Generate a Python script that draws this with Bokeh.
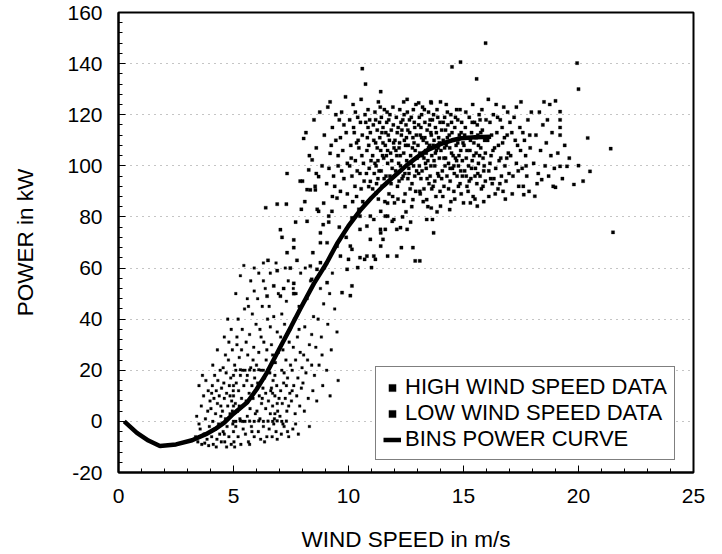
from bokeh.plotting import figure
from bokeh.models import Range1d, SingleIntervalTicker, Legend, LegendItem
from bokeh.embed import file_html
from bokeh.resources import INLINE

# ---- data -----------------------------------------------------------------
curve_speed = [0.25, 0.8, 1.3, 1.8, 2.5, 3.2, 3.8, 4.2, 4.6, 5.0, 5.6, 6.0, 6.45,
               7.0, 7.5, 7.9, 8.5, 9.05, 9.5, 10.0, 10.5, 11.0, 11.5, 12.0,
               12.5, 13.0, 13.4, 14.0, 14.5, 14.9, 15.5, 16.2]
curve_power = [0.0, -4.5, -7.5, -9.6, -9.0, -7.4, -5.0, -3.0, -0.5, 3.0, 7.5, 12.5, 19.0,
               28.5, 37.0, 44.0, 54.0, 62.0, 69.5, 76.5, 82.5, 87.5, 92.0, 96.0,
               100.0, 103.5, 106.0, 108.5, 110.0, 110.8, 111.2, 111.4]

low_pts = [
    (3.35, -6), (3.4, 2), (3.45, -8), (3.5, 14), (3.55, -3), (3.6, 6), (3.62, -9), (3.7, 10),
    (3.72, -5), (3.78, 1), (3.8, 16), (3.85, -7), (3.88, 4), (3.9, 12), (3.95, -2), (3.98, 8),
    (3.5, -1), (3.65, 18), (3.75, -8.5), (3.92, -9.5),
    (4.02, 5), (4.05, -6), (4.08, 14), (4.1, 0), (4.12, -9), (4.15, 9), (4.18, 18), (4.2, -3),
    (4.22, 3), (4.25, 12), (4.28, -7), (4.3, 7), (4.32, 16), (4.35, -1), (4.38, 10), (4.4, -5),
    (4.42, 20), (4.45, 2), (4.47, -8), (4.48, 13), (4.1, 22), (4.3, 28), (4.45, 6), (4.05, 11),
    (4.25, -10),
    (4.52, 4), (4.55, -4), (4.58, 15), (4.6, 9), (4.62, -8), (4.65, 1), (4.68, 19), (4.7, 11),
    (4.72, -2), (4.75, 6), (4.78, 24), (4.8, -6), (4.82, 14), (4.85, 3), (4.88, 17), (4.9, -9),
    (4.92, 8), (4.95, 28), (4.97, -1), (4.99, 12), (4.6, 33), (4.75, 40), (4.9, 36), (4.55, 21),
    (4.7, -10), (4.85, 10), (4.65, 26), (4.95, 4), (4.8, 31), (4.6, -5),
    (5.0, -4), (5.0, 0), (5.0, 3), (5.0, 6), (5.0, 10), (5.0, 14), (5.0, 18), (5.02, -8),
    (5.05, 22), (5.08, 7), (5.1, -2), (5.12, 15), (5.15, 30), (5.18, 4), (5.2, -6), (5.22, 12),
    (5.25, 25), (5.28, 1), (5.3, 18), (5.32, -9), (5.35, 9), (5.38, 36), (5.4, 20), (5.42, -3),
    (5.45, 14), (5.48, 44), (5.1, 50), (5.3, 57), (5.45, 61), (5.2, 40), (5.15, 33), (5.35, 28),
    (5.05, -10), (5.25, 6), (5.4, 0),
    (5.52, -5), (5.55, 8), (5.58, 16), (5.6, 2), (5.62, 26), (5.65, -8), (5.68, 11), (5.7, 34),
    (5.72, 5), (5.75, 21), (5.78, -2), (5.8, 14), (5.82, 42), (5.85, 9), (5.88, 29), (5.9, -6),
    (5.92, 17), (5.95, 3), (5.98, 38), (5.6, 48), (5.75, 55), (5.9, 60), (5.55, 31), (5.7, -9),
    (5.85, 24), (5.65, 45), (5.95, 12), (5.8, -4), (5.9, 51), (5.6, 18),
    (6.02, 4), (6.05, 15), (6.08, -4), (6.1, 27), (6.12, 10), (6.15, 36), (6.18, -7), (6.2, 20),
    (6.22, 7), (6.25, 45), (6.28, 13), (6.3, -2), (6.32, 31), (6.35, 17), (6.38, 52), (6.4, 5),
    (6.42, 24), (6.45, -6), (6.48, 40), (6.1, 58), (6.3, 62), (6.05, 48), (6.2, 33), (6.4, 11),
    (6.15, 1), (6.35, -8), (6.45, 28), (6.25, 9), (6.0, 22), (6.3, 55),
    (6.52, 8), (6.55, -3), (6.58, 19), (6.6, 3), (6.62, 12), (6.65, 30), (6.68, -6), (6.7, 6),
    (6.72, 16), (6.75, 41), (6.78, 1), (6.8, 10), (6.82, 23), (6.85, -4), (6.88, 14), (6.9, 35),
    (6.92, 4), (6.95, 50), (6.98, 9), (6.6, 58), (6.85, 62), (6.7, 26), (6.55, 45), (6.9, -7),
    (6.65, 13), (6.8, 18), (6.95, 27), (6.75, -1), (6.6, 37), (6.9, 7), (6.7, 11), (6.8, 3),
    (7.02, 2), (7.05, 12), (7.08, -5), (7.1, 20), (7.12, 7), (7.15, 28), (7.18, 15), (7.2, -2),
    (7.22, 38), (7.25, 9), (7.28, 24), (7.3, 47), (7.32, 4), (7.35, 17), (7.38, 55), (7.4, -6),
    (7.42, 31), (7.45, 11), (7.48, 22), (7.1, 42), (7.25, 60), (7.4, 6), (7.15, -1), (7.3, 14),
    (7.45, 36), (7.05, 33), (7.2, 19), (7.35, -4),
    (7.52, 8), (7.55, 20), (7.58, -3), (7.6, 29), (7.62, 14), (7.65, 40), (7.68, 3), (7.7, 24),
    (7.72, 50), (7.75, 10), (7.78, 33), (7.8, 17), (7.82, -5), (7.85, 45), (7.88, 6), (7.9, 27),
    (7.92, 58), (7.95, 13), (7.98, 21), (7.6, 52), (7.7, -1), (7.85, 36), (7.55, 12),
    (8.02, 15), (8.05, 26), (8.08, 4), (8.1, 37), (8.15, 19), (8.2, 48), (8.25, 9), (8.3, 30),
    (8.35, 55), (8.4, 22), (8.45, 12), (8.48, 41), (8.12, 60), (8.3, -2), (8.4, 34), (8.22, 24),
    (8.52, 18), (8.58, 29), (8.62, 8), (8.68, 40), (8.72, 22), (8.78, 52), (8.82, 33), (8.88, 14),
    (8.92, 46), (8.96, 60), (8.6, 56), (8.85, 26),
    (9.05, 20), (9.1, 38), (9.18, 50), (9.25, 28), (9.3, 58), (9.4, 44), (9.5, 35), (9.55, 16),
    (9.2, 10),
    (5.1, 20), (5.3, 20.2), (5.5, 20), (5.7, 20.1), (5.9, 20), (6.1, 20.2), (6.3, 20), (6.5, 20.1),
    (5.1, 0), (5.3, 0.2), (5.5, 0), (5.7, 0.1), (5.9, 0), (6.1, 0.2), (6.3, 0), (6.5, 0.1),
    (6.7, 0), (6.9, 0.2), (7.1, 0), (7.3, 0.1),
]

high_pts = [
    (7.04, 75), (7.11, 72), (7.33, 97), (7.33, 66), (7.47, 60), (7.62, 71), (7.62, 54), (7.76, 63),
    (7.9, 94), (7.18, 52), (7.62, 68), (7.3, 85), (7.95, 83), (7.7, 78), (6.9, 59), (6.5, 63),
    (6.75, 53), (6.46, 49), (7.04, 49), (7.62, 50), (6.4, 83.6), (6.9, 85),
    (8.05, 110.7), (8.0, 94), (8.2, 90.7), (8.34, 90.6), (8.56, 90.6), (8.55, 92), (8.7, 95.8),
    (8.27, 98.4), (8.42, 102.3), (8.5, 118), (8.92, 85.4), (8.7, 82.2), (8.2, 78.3), (8.64, 83),
    (8.78, 73.8), (8.78, 69.9), (8.34, 60.8), (8.4, 55.6), (8.78, 62.1), (8.63, 59.5), (8.15, 113),
    (8.6, 107), (8.85, 100), (8.3, 104), (8.95, 112), (8.75, 121), (8.45, 66), (8.1, 86), (8.9, 77),
    (8.6, 97),
    (9.1, 123), (9.2, 125), (9.2, 104.9), (9.28, 82.2), (9.5, 87.4), (9.14, 80.3), (9.14, 78),
    (9.07, 69.9), (9.5, 68.6), (9.07, 54.3), (9.65, 64.7), (9.94, 59.5), (9.72, 50.4), (9.87, 127),
    (9.3, 115), (9.45, 110), (9.6, 118), (9.75, 106), (9.9, 113), (9.35, 96),
    (9.55, 100), (9.8, 95), (9.65, 90), (9.95, 101), (9.4, 92), (9.7, 121), (9.85, 84), (9.25, 108),
    (9.6, 76), (9.9, 72), (9.15, 99), (9.45, 120), (9.8, 116), (9.55, 104), (9.3, 88), (9.7, 98),
    (9.95, 89), (9.05, 93), (9.65, 111),
    (10.0, 63.4), (10.08, 68.6), (10.15, 67.3), (10.15, 53), (10.08, 49.2), (10.5, 64.1),
    (10.7, 63.4), (10.4, 60.2), (10.5, 75.1), (10.8, 76.4), (10.5, 80.3), (10.15, 79.6),
    (10.95, 80.3), (10.88, 91.9), (10.95, 93.9), (10.8, 64.7), (10.95, 71.2), (10.6, 138),
    (10.74, 132), (10.05, 118), (10.1, 108), (10.15, 96), (10.2, 124), (10.25, 113), (10.3, 102),
    (10.35, 88), (10.4, 119), (10.45, 107), (10.5, 97), (10.55, 126), (10.6, 112), (10.65, 101),
    (10.7, 85), (10.75, 117), (10.8, 106), (10.85, 122), (10.9, 99), (10.95, 113), (10.12, 103),
    (10.28, 92), (10.42, 110), (10.58, 104), (10.72, 120), (10.88, 108), (10.22, 115), (10.38, 98),
    (10.52, 117), (10.68, 94), (10.82, 111), (10.98, 102), (10.3, 121), (10.62, 86), (10.92, 118),
    (10.45, 83), (10.18, 86), (10.78, 97), (10.35, 109), (10.55, 91), (10.05, 100), (10.85, 115),
    (11.1, 64.7), (11.0, 60.2), (11.17, 63.4), (11.4, 68.6), (11.5, 71.2), (11.4, 73.8),
    (11.39, 75.1), (11.1, 79), (11.6, 80.3), (11.4, 82.2), (11.7, 80.3), (11.97, 79), (11.6, 75.1),
    (11.2, 89.3), (11.7, 85.4), (11.7, 64.7), (11.9, 78.3), (11.4, 129), (11.05, 104), (11.08, 116),
    (11.12, 97), (11.15, 121), (11.18, 109), (11.22, 93), (11.25, 114), (11.28, 102), (11.3, 125),
    (11.33, 98), (11.36, 111), (11.4, 106), (11.43, 119), (11.46, 92), (11.5, 115), (11.53, 103),
    (11.56, 122), (11.6, 108), (11.63, 96), (11.66, 117), (11.7, 101), (11.73, 112), (11.76, 89),
    (11.8, 120), (11.83, 105), (11.86, 114), (11.9, 99), (11.93, 123), (11.96, 109), (11.1, 110),
    (11.2, 100), (11.3, 87), (11.45, 113), (11.55, 95), (11.65, 104), (11.75, 118), (11.85, 93),
    (11.95, 116), (11.15, 101), (11.35, 117), (11.5, 109), (11.7, 106), (11.88, 102), (11.25, 107),
    (11.42, 98), (11.62, 113), (11.8, 96), (11.98, 107), (11.05, 91), (11.38, 123), (11.68, 121),
    (11.92, 88), (11.58, 86), (11.28, 95), (11.78, 110), (11.48, 104), (11.18, 118),
    (12.1, 64.7), (12.1, 75.1), (12.3, 68), (12.8, 68), (12.26, 75.8), (12.55, 75.1), (12.0, 85.5),
    (12.4, 86.1), (12.8, 86.8), (12.55, 126), (12.9, 62.8), (12.02, 110), (12.05, 98), (12.08, 119),
    (12.1, 104), (12.13, 92), (12.16, 115), (12.2, 107), (12.23, 122), (12.26, 100), (12.3, 112),
    (12.33, 95), (12.36, 118), (12.4, 105), (12.43, 110), (12.46, 89), (12.5, 116), (12.53, 102),
    (12.56, 121), (12.6, 108), (12.63, 97), (12.66, 113), (12.7, 104), (12.73, 119), (12.76, 93),
    (12.8, 111), (12.83, 100), (12.86, 117), (12.9, 106), (12.93, 124), (12.96, 98), (12.12, 113),
    (12.18, 101), (12.28, 117), (12.38, 96), (12.48, 108), (12.58, 114), (12.68, 91), (12.78, 107),
    (12.88, 115), (12.98, 103), (12.22, 109), (12.42, 120), (12.62, 99), (12.82, 122), (12.15, 87),
    (12.35, 80), (12.45, 97), (12.65, 118), (12.75, 84), (12.95, 112), (12.25, 104), (12.52, 111),
    (12.72, 101), (12.92, 90), (12.06, 106), (12.32, 114), (12.58, 95), (12.85, 109), (12.4, 125),
    (12.7, 78), (12.2, 94), (12.5, 82), (12.88, 96),
    (13.05, 124.6), (13.6, 124.6), (13.1, 62.8), (13.7, 73.8), (13.4, 79), (13.6, 83.5), (13.1, 90),
    (13.4, 86.8), (13.02, 108), (13.05, 116), (13.08, 100), (13.12, 112), (13.15, 95), (13.18, 120),
    (13.22, 104), (13.25, 110), (13.28, 91), (13.32, 117), (13.35, 106), (13.38, 99), (13.42, 114),
    (13.45, 102), (13.48, 121), (13.52, 108), (13.55, 96), (13.58, 113), (13.62, 104), (13.65, 118),
    (13.68, 92), (13.72, 110), (13.75, 100), (13.78, 115), (13.82, 106), (13.85, 122), (13.88, 97),
    (13.92, 111), (13.95, 103), (13.98, 117), (13.1, 105), (13.2, 98), (13.3, 122), (13.4, 109),
    (13.5, 93), (13.6, 112), (13.7, 120), (13.8, 88), (13.9, 107), (13.15, 115), (13.35, 101),
    (13.55, 118), (13.75, 94), (13.95, 109), (13.25, 86), (13.45, 84), (13.65, 79), (13.85, 82),
    (13.05, 97), (13.32, 111), (13.58, 100), (13.78, 105), (13.12, 89), (13.42, 95), (13.62, 91),
    (13.82, 113), (13.22, 123), (13.52, 116), (13.72, 102), (13.92, 96), (13.38, 105), (13.68, 108),
    (13.18, 111), (13.48, 107), (13.88, 119), (13.08, 119), (13.98, 90), (13.28, 103), (13.58, 125),
    (14.0, 125), (14.0, 84.2), (14.4, 82.9), (14.5, 138.7), (14.87, 140.6), (15.0, 85.5),
    (14.02, 106), (14.05, 114), (14.08, 98), (14.12, 110), (14.15, 92), (14.18, 119), (14.22, 103),
    (14.25, 108), (14.28, 96), (14.32, 116), (14.35, 101), (14.38, 112), (14.42, 94), (14.45, 120),
    (14.48, 105), (14.52, 99), (14.55, 110), (14.58, 90), (14.62, 115), (14.65, 103), (14.68, 108),
    (14.72, 96), (14.75, 118), (14.78, 100), (14.82, 112), (14.85, 93), (14.88, 106), (14.92, 117),
    (14.95, 102), (14.98, 109), (14.1, 88), (14.2, 100), (14.3, 121), (14.4, 107), (14.5, 113),
    (14.6, 97), (14.7, 122), (14.8, 104), (14.9, 89), (14.15, 103), (14.35, 91), (14.55, 104),
    (14.75, 109), (14.95, 96), (14.25, 124), (14.45, 86), (14.65, 119), (14.85, 122), (14.05, 95),
    (14.3, 111), (14.58, 100), (14.78, 92), (14.12, 117), (14.42, 99), (14.62, 87), (14.9, 113),
    (14.22, 114), (14.7, 102), (14.48, 117), (14.18, 107), (14.88, 98),
    (15.3, 85.5), (15.6, 84.2), (15.57, 134), (15.96, 148), (15.02, 108), (15.05, 98), (15.08, 115),
    (15.12, 103), (15.15, 92), (15.18, 111), (15.22, 100), (15.25, 119), (15.28, 106), (15.32, 95),
    (15.35, 113), (15.38, 102), (15.42, 88), (15.45, 109), (15.48, 117), (15.52, 99), (15.55, 105),
    (15.58, 93), (15.62, 112), (15.65, 101), (15.68, 120), (15.72, 96), (15.75, 107), (15.78, 91),
    (15.82, 114), (15.85, 103), (15.88, 98), (15.92, 110), (15.95, 94), (15.98, 118), (15.1, 121),
    (15.2, 90), (15.3, 110), (15.4, 124), (15.5, 96), (15.6, 116), (15.7, 104), (15.8, 122),
    (15.9, 100), (15.15, 106), (15.35, 99), (15.55, 111), (15.75, 113), (15.95, 105), (15.25, 94),
    (15.45, 104), (15.65, 108), (15.85, 92), (15.05, 112), (15.38, 117), (15.62, 97), (15.88, 86),
    (15.12, 96), (15.5, 87), (15.72, 118),
    (16.1, 88), (16.05, 110), (16.1, 98), (16.15, 117), (16.2, 104), (16.25, 93), (16.3, 120),
    (16.35, 107), (16.4, 99), (16.45, 113), (16.5, 91), (16.55, 102), (16.6, 118), (16.65, 96),
    (16.7, 109), (16.75, 123), (16.8, 100), (16.85, 94), (16.9, 112), (16.95, 105), (16.08, 126),
    (16.22, 112), (16.38, 89), (16.52, 108), (16.68, 115), (16.82, 87), (16.98, 97), (16.15, 101),
    (16.32, 95), (16.48, 119), (16.62, 103), (16.78, 111), (16.92, 121), (16.28, 106), (16.58, 93),
    (16.88, 103), (16.42, 124), (16.72, 90), (16.18, 95),
    (17.6, 92), (17.62, 88.7), (17.05, 104), (17.1, 113), (17.15, 96), (17.2, 119), (17.3, 101),
    (17.35, 108), (17.4, 92), (17.45, 115), (17.5, 125), (17.55, 99), (17.65, 110), (17.7, 104),
    (17.75, 96), (17.8, 118), (17.85, 90), (17.9, 107), (17.95, 121), (17.12, 89), (17.25, 110),
    (17.38, 98), (17.58, 113), (17.72, 100), (17.88, 112), (17.02, 117), (17.48, 106), (17.3, 123),
    (18.1, 88.1), (18.4, 94.6), (18.9, 92), (18.05, 101), (18.15, 112), (18.25, 97), (18.3, 121),
    (18.35, 106), (18.45, 116), (18.55, 100), (18.6, 109), (18.7, 96), (18.75, 124), (18.8, 104),
    (18.85, 113), (18.95, 99), (18.2, 93), (18.5, 125), (18.65, 118),
    (19.0, 125.4), (19.2, 121.2), (19.2, 118), (19.2, 115), (19.2, 112), (19.0, 91.6), (19.2, 99.8),
    (19.5, 99.8), (19.8, 92.7), (20.0, 100.1), (20.2, 94), (20.5, 97.8), (20.4, 110.9),
    (21.4, 106.7), (21.5, 74), (20.0, 130), (19.94, 140.2), (19.1, 105), (19.4, 108), (19.6, 103),
    (19.3, 95),
]

low_speed = [p[0] for p in low_pts]
low_power = [p[1] for p in low_pts]
high_speed = [p[0] for p in high_pts]
high_power = [p[1] for p in high_pts]

legend_labels = ["HIGH WIND SPEED DATA", "LOW WIND SPEED DATA", "BINS POWER CURVE"]

FONT = "Liberation Sans"

p = figure(width=722, height=554, output_backend="svg", toolbar_location=None,
           x_range=Range1d(0, 25), y_range=Range1d(-20, 160),
           min_border_left=118, min_border_right=29, min_border_top=12, min_border_bottom=80)

p.background_fill_color = "white"
p.border_fill_color = "white"
p.outline_line_color = "black"
p.outline_line_width = 2

p.xaxis.ticker = SingleIntervalTicker(interval=5, num_minor_ticks=5)
p.yaxis.ticker = SingleIntervalTicker(interval=20, num_minor_ticks=5)
p.yaxis.major_label_overrides = {-20: "-20"}

for ax in (p.xaxis[0], p.yaxis[0]):
    ax.axis_line_color = "black"
    ax.axis_line_width = 2
    ax.major_tick_line_color = "black"
    ax.minor_tick_line_color = "black"
    ax.major_tick_in = 7
    ax.major_tick_out = 0
    ax.minor_tick_in = 4
    ax.minor_tick_out = 0
    ax.major_label_text_font = FONT
    ax.major_label_text_font_size = "21px"
    ax.major_label_text_color = "black"
    ax.axis_label_text_font = FONT
    ax.axis_label_text_font_size = "22.5px"
    ax.axis_label_text_font_style = "normal"
    ax.axis_label_text_color = "black"

p.xaxis.axis_label = "WIND SPEED in m/s"
p.yaxis.axis_label = "POWER in kW"
p.xaxis.major_label_standoff = 16
p.yaxis.major_label_standoff = 16
p.xaxis.axis_label_standoff = 21
p.yaxis.axis_label_standoff = 26

p.xgrid.grid_line_color = None
p.ygrid.grid_line_color = "#8a8a8a"
p.ygrid.grid_line_dash = "1 5"
p.ygrid.grid_line_width = 1

r_low = p.scatter(low_speed, low_power, marker="square", size=2.6,
                  fill_color="black", line_color="black", line_width=0.3)
r_high = p.scatter(high_speed, high_power, marker="square", size=3.2,
                   fill_color="black", line_color="black", line_width=0.3)
r_curve = p.line(curve_speed, curve_power, line_color="black", line_width=4.5)

legend = Legend(items=[
    LegendItem(label=legend_labels[0], renderers=[r_high]),
    LegendItem(label=legend_labels[1], renderers=[r_low]),
    LegendItem(label=legend_labels[2], renderers=[r_curve]),
], location=(257, 12))
legend.label_text_font = FONT
legend.label_text_font_size = "22px"
legend.label_text_color = "black"
legend.label_height = 25
legend.glyph_height = 25
legend.glyph_width = 18
legend.label_standoff = 4
legend.spacing = 0
legend.padding = 7
legend.margin = 0
legend.border_line_color = "black"
legend.border_line_width = 1.5
legend.background_fill_color = "white"
legend.background_fill_alpha = 1.0
p.add_layout(legend, "center")

open("out.html", "w").write(file_html(p, INLINE))
